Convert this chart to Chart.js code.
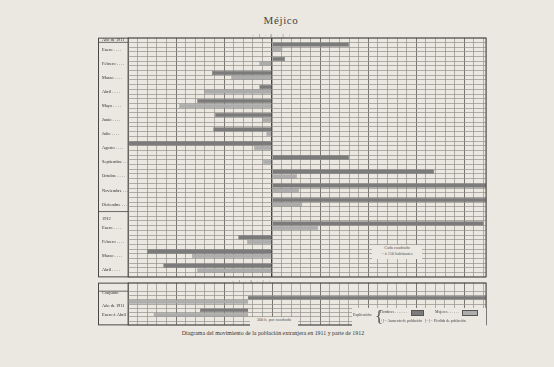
<!DOCTYPE html>
<html lang="es">
<head>
<meta charset="utf-8">
<title>Méjico</title>
<script src="https://cdn.jsdelivr.net/npm/chart.js@4.4.1/dist/chart.umd.min.js"></script>
<style>
  body { margin: 0; width: 554px; height: 367px; background: #ebe8e1; font-family: "Liberation Serif", "DejaVu Serif", serif; color: #3a3a3a; overflow: hidden; position: relative; }
  .abs { position: absolute; }
  #titulo { left: 0; width: 562px; top: 14px; text-align: center; font-size: 11px; letter-spacing: 0.6px; color: #444; }
  #pie { left: 0; width: 546px; top: 330px; text-align: center; font-size: 5.9px; color: #333; }
  #principal { left: 98px; top: 35px; }
  #conjunto { left: 98px; top: 280px; }
  .nota { background: #ebe8e1; font-size: 4.3px; color: #555; text-align: center; line-height: 6px; }
  .signo { font-size: 4px; color: #666; letter-spacing: 1.6px; }
  #leyenda { left: 352px; top: 308px; width: 134px; height: 19px; background: #ebe8e1; font-size: 3.8px; color: #444; }
  #leyenda span { position: absolute; white-space: nowrap; }
  .caja { position: absolute; height: 4px; border: 0.6px solid #555; }
</style>
</head>
<body>
<div id="titulo" class="abs">Méjico</div>
<canvas id="principal" class="abs" width="390" height="245"></canvas>
<canvas id="conjunto" class="abs" width="390" height="48"></canvas>

<div class="abs signo" style="left:252px; top:33px;">− 1 · 0 · 1 +</div>
<div class="abs signo" style="left:232px; top:279px;">− 1 · 0 · 1 +</div>
<div class="abs nota" style="left:372px; top:245px; width:50px; height:14px;">Cada cuadrado<br>= á 150 habitantes</div>
<div class="abs nota" style="left:250px; top:317px; width:48px; height:9px;">300 h. por cuadrado</div>
<div id="leyenda" class="abs">
  <span style="left:1px; top:5px;">Explicación:</span>
  <span style="left:23px; top:0px; font-size:17px; line-height:17px; color:#555;">{</span>
  <span style="left:28px; top:2px;">Hombres . . . . . . .</span>
  <div class="caja" style="left:59px; top:2px; width:11px; background:#7b7b7b;"></div>
  <span style="left:83px; top:2px;">Mujeres . . . . . .</span>
  <div class="caja" style="left:110px; top:2px; width:14px; background:#adadad;"></div>
  <span style="left:27px; top:11px;">[+] = Aumento de población</span>
  <span style="left:73px; top:11px;">[−] = Pérdida de población</span>
</div>
<div id="pie" class="abs">Diagrama del movimiento de la población extranjera en 1911 y parte de 1912</div>

<script>
const meses1911 = ["Enero", "Febrero", "Marzo", "Abril", "Mayo", "Junio", "Julio", "Agosto", "Septiembre", "Octubre", "Noviembre", "Diciembre"];
const meses1912 = ["Enero", "Febrero", "Marzo", "Abril"];
// saldo de cada mes en habitantes (+ aumento, - pérdida)
const hombres1911 = [1200, 200, -940, -200, -1170, -890, -920, -2240, 1200, 2530, 3400, 3400];
const mujeres1911 = [160, -200, -640, -1060, -1450, -160, -90, -280, -140, 390, 420, 470];
const hombres1912 = [3300, -530, -1950, -1700];
const mujeres1912 = [720, -390, -1250, -1170];
// cuadro de conjunto
const periodos = ["Año de 1911", "Enero á Abril 1912"];
const conjuntoHombres = [7500, -1500];
const conjuntoMujeres = [-3750, -2950];

const porCuadrado = 150;
const porCuadradoConjunto = 300;

const fuente = { family: "Liberation Serif", size: 4.4 };
const gris = "#93908b";
const oscuro = "#6b6965";

// filas del cuadro principal: hombres, mujeres, hueco
const filas = [], hFila = [], mFila = [];
function fila(label, h, m) {
  filas.push(label);
  hFila.push(h);
  mFila.push(m);
}
fila("Año de 1911", null, null);
meses1911.forEach((mes, i) => {
  fila("", hombres1911[i], null);
  fila(mes + " . . . .", null, mujeres1911[i]);
  fila("", null, null);
});
fila("", null, null);
fila("1912", null, null);
meses1912.forEach((mes, i) => {
  fila("", hombres1912[i], null);
  fila(mes + " . . . .", null, mujeres1912[i]);
  fila("", null, null);
});

const filasConjunto = ["", "", "Conjunto", "", "", periodos[0], "", periodos[1], "", ""];
const hConjunto = [null, null, null, conjuntoHombres[0], null, null, conjuntoHombres[1], null, null, null];
const mConjunto = [null, null, null, null, conjuntoMujeres[0], null, null, conjuntoMujeres[1], null, null];

/**
 * marco exterior y lineas de la columna de nombres
 * @param {Number[]} separadores filas que llevan raya hasta el borde
 */
function marco(separadores) {
  return {
    id: "marco",
    afterDraw(chart) {
      const { ctx, chartArea } = chart;
      const y = chart.scales.y;
      ctx.save();
      ctx.strokeStyle = "#4a4844";
      ctx.lineWidth = 1;
      ctx.strokeRect(0.5, chartArea.top + 0.5, chartArea.right - 0.5, chartArea.bottom - chartArea.top - 1);
      ctx.beginPath();
      ctx.moveTo(chartArea.left, chartArea.top);
      ctx.lineTo(chartArea.left, chartArea.bottom);
      ctx.lineWidth = 0.8;
      separadores.forEach(k => {
        const py = (y.getPixelForValue(k - 1) + y.getPixelForValue(k)) / 2;
        ctx.moveTo(0, py);
        ctx.lineTo(chartArea.left, py);
      });
      ctx.stroke();
      ctx.restore();
    }
  };
}

function escalaX(min, max, paso) {
  return {
    min: min,
    max: max,
    afterBuildTicks: s => {
      const t = [];
      for (let v = min; v <= max + 1e-6; v += paso) t.push({ value: v });
      t.push({ value: max });
      s.ticks = t;
    },
    afterFit: s => { s.height = 0; },
    ticks: { display: false },
    border: { display: false },
    grid: {
      drawTicks: false,
      color: ctx => {
        const n = Math.round((ctx.tick.value - min) / paso);
        if (ctx.tick.value === 0) return "#45433f";
        return n % 5 === 0 ? oscuro : gris;
      },
      lineWidth: ctx => {
        if (ctx.tick.value === 0) return 1.4;
        const n = Math.round((ctx.tick.value - min) / paso);
        return n % 5 === 0 ? 0.9 : 0.7;
      }
    }
  };
}

function escalaY(sinRaya) {
  return {
    afterFit: s => { s.width = 26; },
    border: { display: false },
    ticks: { autoSkip: false, crossAlign: "far", font: fuente, color: "#2e2e2e", padding: 0 },
    grid: {
      drawTicks: false,
      color: ctx => sinRaya.includes(ctx.index) ? "rgba(0,0,0,0)" : gris,
      lineWidth: 0.7
    }
  };
}

function dibujar(id, labels, hombres, mujeres, x, y, separadores) {
  return new Chart(document.getElementById(id), {
    type: "bar",
    data: {
      labels: labels,
      datasets: [
        { label: "Hombres", data: hombres, backgroundColor: "#7b7b7b", borderColor: "#626262", borderWidth: 0.5 },
        { label: "Mujeres", data: mujeres, backgroundColor: "#adadad", borderColor: "#858585", borderWidth: 0.5 }
      ]
    },
    options: {
      indexAxis: "y",
      responsive: false,
      animation: false,
      layout: { padding: { left: 4, right: 2, top: 0, bottom: 0 } },
      datasets: { bar: { grouped: false, barPercentage: 0.92, categoryPercentage: 1 } },
      plugins: { legend: { display: false }, tooltip: { enabled: false } },
      scales: { x: x, y: y }
    },
    plugins: [marco(separadores)]
  });
}

dibujar("principal", filas, hFila, mFila,
  escalaX(-15 * porCuadrado, 22.25 * porCuadrado, porCuadrado),
  escalaY([]), [1, 37]);

dibujar("conjunto", filasConjunto, hConjunto, mConjunto,
  escalaX(-12.5 * porCuadradoConjunto, 24.79 * porCuadradoConjunto, porCuadradoConjunto),
  escalaY([1]), [2]);
</script>
</body>
</html>
